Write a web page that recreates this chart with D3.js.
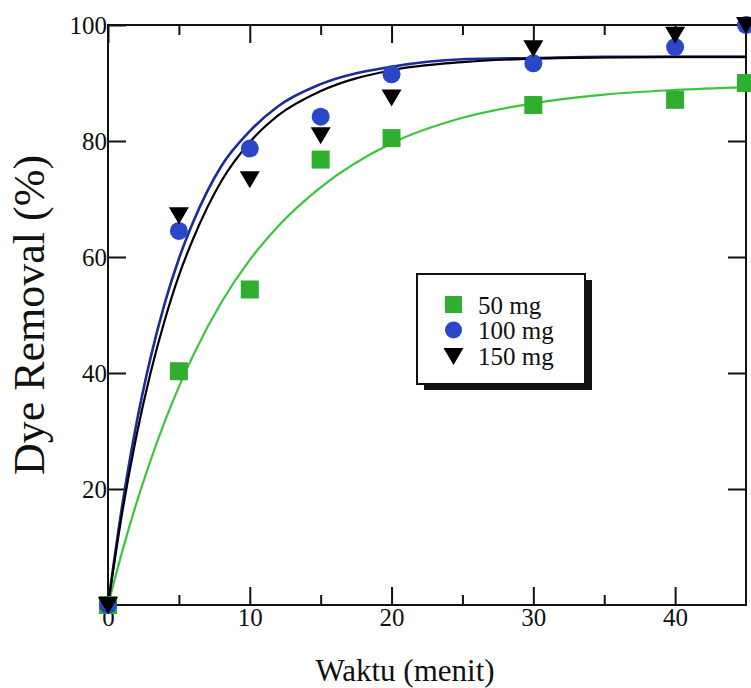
<!DOCTYPE html>
<html>
<head>
<meta charset="utf-8">
<script src="https://cdn.jsdelivr.net/npm/d3@7"></script>
<style>
  body { margin: 0; background: #fff; }
</style>
</head>
<body>
<svg id="chart" width="751" height="688"></svg>
<script>
// measured points (time in minutes, dye removal %)
const times = [0, 5, 10, 15, 20, 30, 40, 45];
const dose50 = [0, 40.3, 54.4, 76.8, 80.5, 86.2, 87.1, 90.0];
const dose100 = [0, 64.5, 78.7, 84.2, 91.5, 93.4, 96.2, 100];
const dose150 = [0, 67.2, 73.4, 81.0, 87.5, 96.0, 98.3, 100];

// fitted curves
const fitTimes = [0, 1, 2, 3, 4, 5, 6, 8, 10, 12, 15, 20, 25, 30, 35, 40, 45];
const fit50 = [0, 9.2, 17.5, 24.9, 31.6, 37.6, 43.0, 52.2, 59.5, 65.3, 72.0, 79.6, 84.0, 86.5, 88.0, 88.8, 89.3];
const fit100 = [0, 17.1, 31.2, 42.6, 52.0, 59.7, 66.0, 75.7, 81.7, 86.0, 89.8, 92.8, 94.1, 94.3, 94.5, 94.5, 94.5];
const fit150 = [0, 15.9, 29.1, 40.0, 49.1, 56.8, 63.1, 73.1, 79.8, 84.4, 88.6, 92.2, 93.6, 94.2, 94.4, 94.5, 94.5];

const seriesNames = ['50 mg', '100 mg', '150 mg'];
const xMajor = [0, 10, 20, 30, 40];
const xMinor = [5, 15, 25, 35];
const yMajor = [20, 40, 60, 80, 100];

const plotLeft = 108, plotRight = 746, plotTop = 25, plotBottom = 605;
const serif = '"Liberation Serif", "DejaVu Serif", serif';
const green = '#2fae2f', greenLine = '#3cc43c';
const blue = '#2b46c6', blueLine = '#1c2c96';

const svg = d3.select('#chart');
const x = d3.scaleLinear().domain([0, 45]).range([plotLeft, plotRight]);
const y = d3.scaleLinear().domain([0, 100]).range([plotBottom, plotTop]);

// frame
svg.append('rect')
  .attr('x', plotLeft).attr('y', plotTop)
  .attr('width', plotRight - plotLeft).attr('height', plotBottom - plotTop)
  .style('fill', 'none').style('stroke', '#111').style('stroke-width', 2);

// ticks, all pointing inward
function tickAxis(axis, where, ticks, size, labels) {
  const g = svg.append('g')
    .attr('transform', where)
    .call(axis.tickValues(ticks).tickSize(size).tickPadding(3)
      .tickFormat(labels ? d3.format('d') : ''));
  g.attr('font-family', null).attr('font-size', null);
  g.select('.domain').remove();
  g.selectAll('line').style('stroke', '#111').style('stroke-width', 2);
  g.selectAll('text')
    .style('font-family', serif).style('font-size', '25px').style('fill', '#111');
  return g;
}
tickAxis(d3.axisBottom(x), `translate(0,${plotBottom})`, xMajor, -18, true);
tickAxis(d3.axisBottom(x), `translate(0,${plotBottom})`, xMinor, -10, false);
tickAxis(d3.axisTop(x), `translate(0,${plotTop})`, xMajor, -18, false);
tickAxis(d3.axisTop(x), `translate(0,${plotTop})`, xMinor, -10, false);
const yl = tickAxis(d3.axisLeft(y), `translate(${plotLeft},0)`, yMajor, -18, true);
yl.selectAll('text').attr('x', -1);
tickAxis(d3.axisRight(y), `translate(${plotRight},0)`, yMajor.slice(0, 4), -18, false);

// fitted lines
const line = d3.line().curve(d3.curveMonotoneX)
  .x(d => x(d[0])).y(d => y(d[1]));
function drawFit(vals, color, w) {
  svg.append('path')
    .datum(fitTimes.map((t, i) => [t, vals[i]]))
    .attr('d', line)
    .style('fill', 'none').style('stroke', color).style('stroke-width', w);
}
drawFit(fit50, greenLine, 2.2);
drawFit(fit100, blueLine, 2.6);
drawFit(fit150, '#000', 2.2);

// markers
const triPath = 'M-10,-8L10,-8L0,9Z';
function squares(g, pts) {
  g.selectAll('rect.m').data(pts).join('rect').attr('class', 'm')
    .attr('x', d => x(d[0]) - 9).attr('y', d => y(d[1]) - 9)
    .attr('width', 18).attr('height', 18).style('fill', green);
}
function circles(g, pts) {
  g.selectAll('circle').data(pts).join('circle')
    .attr('cx', d => x(d[0])).attr('cy', d => y(d[1])).attr('r', 9)
    .style('fill', blue);
}
function triangles(g, pts) {
  g.selectAll('path').data(pts).join('path')
    .attr('d', triPath)
    .attr('transform', d => `translate(${x(d[0])},${y(d[1])})`)
    .style('fill', '#000');
}
squares(svg.append('g'), times.map((t, i) => [t, dose50[i]]));
circles(svg.append('g'), times.map((t, i) => [t, dose100[i]]));
triangles(svg.append('g'), times.map((t, i) => [t, dose150[i]]));

// legend
const lg = svg.append('g').attr('transform', 'translate(417,274)');
lg.append('rect').attr('x', 7).attr('y', 6).attr('width', 168).attr('height', 110).style('fill', '#111');
lg.append('rect').attr('x', 0).attr('y', 0).attr('width', 168).attr('height', 110)
  .style('fill', '#fff').style('stroke', '#111').style('stroke-width', 2);
const rowY = [31, 56, 82];
lg.append('rect').attr('x', 28).attr('y', rowY[0] - 9).attr('width', 17).attr('height', 17).style('fill', green);
lg.append('circle').attr('cx', 36.5).attr('cy', rowY[1]).attr('r', 8.5).style('fill', blue);
lg.append('path').attr('d', triPath).attr('transform', `translate(36.5,${rowY[2]})`).style('fill', '#000');
lg.selectAll('text.lab').data(seriesNames).join('text').attr('class', 'lab')
  .attr('x', 61).attr('y', (d, i) => rowY[i] + 9)
  .style('font-family', serif).style('font-size', '25px').style('fill', '#111')
  .text(d => d);

// axis titles
svg.append('text').attr('x', 405).attr('y', 681)
  .attr('text-anchor', 'middle')
  .style('font-family', serif).style('font-size', '31px').style('fill', '#111')
  .text('Waktu (menit)');
svg.append('text')
  .attr('transform', 'translate(44,315) rotate(-90)')
  .attr('text-anchor', 'middle')
  .style('font-family', serif).style('font-size', '44px').style('fill', '#111')
  .text('Dye Removal (%)');
</script>
</body>
</html>
